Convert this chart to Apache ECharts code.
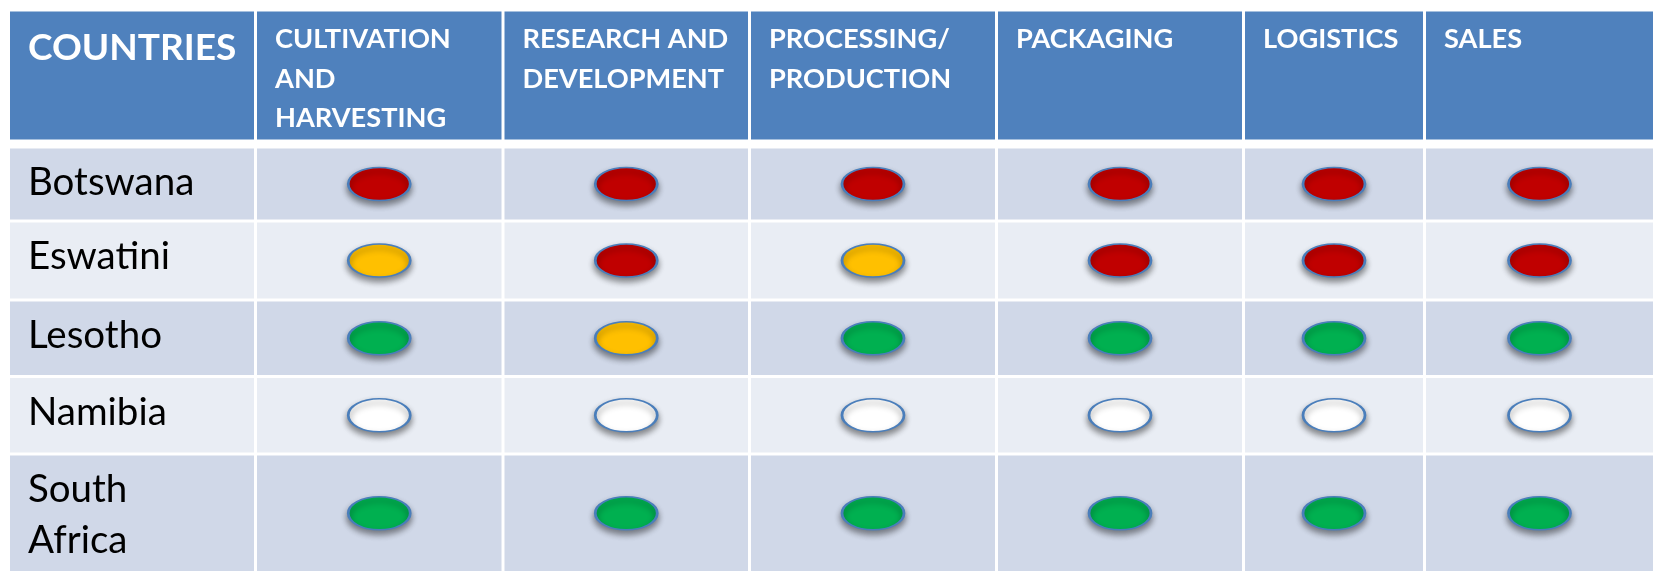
<!DOCTYPE html>
<html><head><meta charset="utf-8">
<script src="https://cdn.jsdelivr.net/npm/echarts@6/dist/echarts.min.js"></script>
<style>html,body{margin:0;padding:0;background:#fff}#chart{width:1653px;height:571px}</style>
</head><body><div id="chart"></div>
<script>
// ---------------- data ----------------
const cornerTitle = 'COUNTRIES';
const stages = ['CULTIVATION\nAND\nHARVESTING', 'RESEARCH AND\nDEVELOPMENT', 'PROCESSING/\nPRODUCTION', 'PACKAGING', 'LOGISTICS', 'SALES'];
const countries = ['Botswana', 'Eswatini', 'Lesotho', 'Namibia', 'South\nAfrica'];
const botswana    = ['red',   'red',   'red',   'red',   'red',   'red'];
const eswatini    = ['amber', 'red',   'amber', 'red',   'red',   'red'];
const lesotho     = ['green', 'amber', 'green', 'green', 'green', 'green'];
const namibia     = ['none',  'none',  'none',  'none',  'none',  'none'];
const southAfrica = ['green', 'green', 'green', 'green', 'green', 'green'];
const statusLevels = ['red', 'amber', 'green', 'none'];

// ---------------- layout & style ----------------
const W = 1653, H = 571, GAP = 3;
const colBounds = [10, 255.5, 503, 749.5, 996.5, 1243.5, 1424.5, 1653];
const headerTop = 11.5, headerBottom = 139.5;
const rowBounds = [148.5, 221, 300, 376.5, 454, 571];
const FONT = 'Lato, "Open Sans", sans-serif';
const statusColors = { red: '#C00000', amber: '#FFC000', green: '#00B050', none: '#FFFFFF' };
const rowFills = ['#D0D8E8', '#E9EDF4'];
const headerFill = '#4F81BD';

const statusByCountry = [botswana, eswatini, lesotho, namibia, southAfrica];

function colLeft(i) { return colBounds[i] + (i === 0 ? 0 : GAP / 2); }
function colRight(i) { return colBounds[i + 1] - (i + 1 === colBounds.length - 1 ? 0 : GAP / 2); }
function rowTop(r) { return r === -1 ? headerTop : rowBounds[r] + (r === 0 ? 0 : GAP / 2); }
function rowBottom(r) { return r === -1 ? headerBottom : rowBounds[r + 1] - (r + 1 === rowBounds.length - 1 ? 0 : GAP / 2); }

// table cells: [col, row]  (row -1 = header)
const cellData = [];
for (let r = -1; r < countries.length; r++) {
  for (let c = 0; c <= stages.length; c++) cellData.push([c, r]);
}

function renderCell(params, api) {
  const c = api.value(0), r = api.value(1);
  const p0 = api.coord([colLeft(c), rowTop(r)]);
  const p1 = api.coord([colRight(c), rowBottom(r)]);
  const fill = r === -1 ? headerFill : rowFills[r % 2];
  const children = [{
    type: 'rect',
    shape: { x: p0[0], y: p0[1], width: p1[0] - p0[0], height: p1[1] - p0[1] },
    style: { fill: fill }
  }];
  if (r === -1 && c === 0) {
    children.push({ type: 'text', style: {
      text: cornerTitle, x: p0[0] + 18, y: p0[1] + 37, verticalAlign: 'middle',
      fill: '#fff', fontFamily: FONT, fontWeight: 'bold', fontSize: 37 } });
  } else if (r === -1) {
    children.push({ type: 'text', style: {
      text: stages[c - 1], x: p0[0] + 18, y: p0[1] + 8, verticalAlign: 'top',
      lineHeight: 39.5, fill: '#fff', fontFamily: FONT, fontWeight: 'bold', fontSize: 27.2 } });
  } else if (c === 0) {
    children.push({ type: 'text', style: {
      text: countries[r], x: p0[0] + 18, y: p0[1] + 9, verticalAlign: 'top',
      lineHeight: 51, fill: '#000', fontFamily: FONT, fontSize: 38.5 } });
  }
  return { type: 'group', children: children };
}

function markerPoints(level) {
  const pts = [];
  statusByCountry.forEach((row, r) => {
    row.forEach((s, c) => {
      if (s === level) {
        const x = (colLeft(c + 1) + colRight(c + 1)) / 2;
        const y = (rowTop(r) + rowBottom(r)) / 2;
        pts.push([x, y]);
      }
    });
  });
  return pts;
}

const markerSeries = statusLevels.map(level => ({
  type: 'scatter',
  name: level,
  z: 5,
  symbol: 'circle',
  symbolSize: [62, 33],
  data: markerPoints(level),
  silent: true,
  itemStyle: {
    color: statusColors[level], opacity: 1,
    borderColor: '#4A7EBB', borderWidth: 2,
    shadowBlur: 6, shadowOffsetY: 4, shadowColor: 'rgba(0,0,0,0.45)'
  }
}));

const chart = echarts.init(document.getElementById('chart'), null, { renderer: 'canvas' });
chart.setOption({
  backgroundColor: '#ffffff',
  animation: false,
  grid: { left: 0, right: 0, top: 0, bottom: 0, containLabel: false },
  xAxis: { type: 'value', min: 0, max: W, show: false },
  yAxis: { type: 'value', min: 0, max: H, inverse: true, show: false },
  tooltip: { show: false },
  series: [{
    type: 'custom', z: 1, silent: true, clip: false,
    renderItem: renderCell, data: cellData
  }].concat(markerSeries)
});
</script>
</body></html>
